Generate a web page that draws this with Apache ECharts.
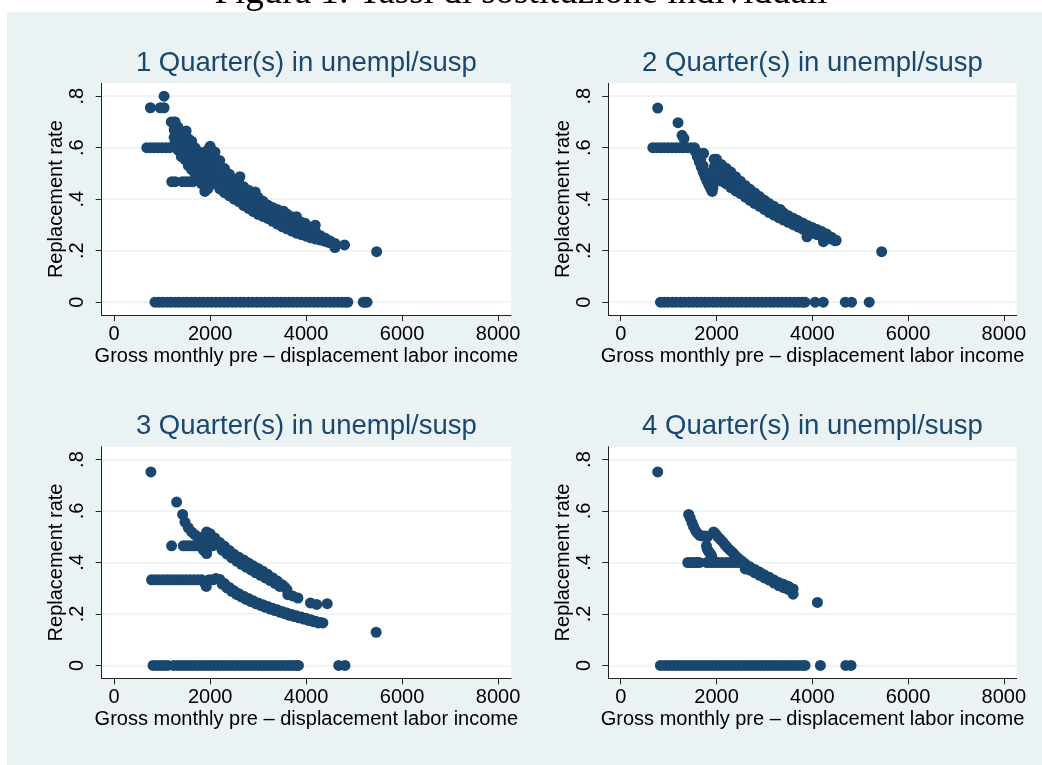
<!DOCTYPE html>
<html><head><meta charset="utf-8">
<script src="https://cdn.jsdelivr.net/npm/echarts@6/dist/echarts.min.js"></script>
<style>html,body{margin:0;padding:0;background:#fff}#c{width:1042px;height:765px}</style>
</head><body><div id="c"></div>
<script>
const captionText = 'Figura 1: Tassi di sostituzione individuali';
const panelTitles = ['1 Quarter(s) in unempl/susp','2 Quarter(s) in unempl/susp','3 Quarter(s) in unempl/susp','4 Quarter(s) in unempl/susp'];
const xAxisTitle = 'Gross monthly pre \u2013 displacement labor income';
const yAxisTitle = 'Replacement rate';
const xTicks = [0, 2000, 4000, 6000, 8000];
const yTicks = [0, 0.2, 0.4, 0.6, 0.8];

// ---- Panel 1 ----
const q1Zero = [850,930,1010,1100,1180,1270,1350,1440,1520,1610,1690,1780,1860,1950,2030,2120,2200,2290,2370,2460,2540,2630,2710,2800,2880,2970,3050,3140,3220,3310,3390,3480,3560,3650,3730,3820,3900,3990,4070,4160,4240,4330,4410,4500,4580,4670,4750,4820,4870,5190,5230,5270];
const q1Cols = [
 [1250,0.70,0.67,0.64,0.61],[1330,0.68,0.65,0.62,0.59],[1400,0.655,0.625,0.595,0.565],
 [1470,0.645,0.615,0.585,0.555],[1545,0.635,0.605,0.575,0.545,0.53],[1615,0.625,0.595,0.565,0.535,0.515],
 [1685,0.60,0.57,0.54,0.51,0.50],[1750,0.585,0.555,0.525,0.50,0.48],[1820,0.58,0.55,0.52,0.49,0.46],
 [1890,0.58,0.55,0.52,0.49,0.46,0.43],[1950,0.59,0.56,0.53,0.50,0.47,0.44],[2000,0.605,0.575,0.545,0.515,0.485,0.455],
 [2100,0.583,0.553,0.523,0.493,0.463],[2200,0.55,0.52,0.49,0.465,0.44],[2300,0.519,0.49,0.46,0.425],
 [2400,0.497,0.47,0.44,0.413],[2500,0.476,0.45,0.425,0.40],[2600,0.462,0.437,0.412,0.39],
 [2700,0.448,0.423,0.398,0.375],[2800,0.435,0.41,0.387,0.364],[2900,0.422,0.397,0.375,0.352],
 [3000,0.407,0.382,0.361,0.341],[3100,0.392,0.37,0.35,0.333],[3200,0.377,0.358,0.34,0.325],
 [3300,0.368,0.35,0.332,0.314],[3400,0.36,0.342,0.323,0.303],[3500,0.351,0.333,0.313,0.293],
 [3600,0.342,0.323,0.304,0.285],[3700,0.332,0.313,0.295,0.276],[3800,0.322,0.304,0.286,0.268],
 [3900,0.31,0.293,0.277,0.262],[4000,0.299,0.284,0.27,0.256],[4100,0.285,0.27,0.25],
 [4200,0.272,0.258,0.245],[4300,0.258,0.248,0.241],[4400,0.248,0.236],[4500,0.237,0.232],[4600,0.228]
];
const q1Other = [
 [755,0.755],[960,0.755],[1040,0.755],[1040,0.80],
 [680,0.60],[760,0.60],[840,0.60],[920,0.60],[1000,0.60],[1080,0.60],[1160,0.60],
 [1190,0.70],[1270,0.70],[1500,0.665],
 [1200,0.468],[1270,0.468],[1420,0.468],[1490,0.468],[1560,0.468],[1640,0.468],
 [2620,0.487],[2940,0.428],[3530,0.353],[3800,0.332],[3980,0.306],[4190,0.299],[4470,0.232],[4600,0.212],[4800,0.222],[5470,0.196]
];

// ---- Panel 2 ----
const q2Zero = [830,910,990,1080,1160,1250,1330,1420,1500,1590,1670,1760,1840,1930,2010,2100,2180,2270,2350,2440,2520,2610,2690,2780,2860,2950,3030,3120,3200,3290,3370,3460,3540,3630,3710,3790,3850,4060,4230,4690,4820,5190];
const q2Cols = [
 [2000,0.555,0.53,0.50,0.475],[2100,0.535,0.51,0.49,0.47],[2200,0.52,0.495,0.475,0.46],
 [2300,0.505,0.48,0.46,0.445],[2400,0.487,0.465,0.447,0.432],[2500,0.47,0.447,0.422],
 [2600,0.453,0.43,0.408],[2700,0.438,0.416,0.395],[2800,0.424,0.403,0.383],[2900,0.41,0.39,0.372],
 [3000,0.396,0.378,0.36],[3100,0.383,0.365,0.348],[3200,0.372,0.355,0.338],[3300,0.36,0.344,0.328],
 [3400,0.347,0.333,0.319],[3500,0.336,0.323,0.31],[3600,0.326,0.313,0.301],[3700,0.317,0.304,0.292],
 [3800,0.307,0.295,0.284],[3900,0.298,0.287,0.277],[4000,0.29,0.279,0.268],[4100,0.282,0.262],
 [4200,0.274,0.256],[4300,0.265,0.25],[4400,0.252,0.245],[4500,0.24]
];
const q2Other = [
 [772,0.754],[1196,0.697],[1280,0.648],[1320,0.636],
 [670,0.60],[750,0.60],[830,0.60],[910,0.60],[990,0.60],[1070,0.60],[1150,0.60],[1230,0.60],[1310,0.60],[1390,0.60],[1470,0.60],[1540,0.60],
 [1731,0.578],
 [1560,0.585],[1600,0.565],[1640,0.545],[1680,0.525],[1720,0.505],[1760,0.488],[1800,0.47],[1840,0.455],[1880,0.44],[1910,0.43],
 [1620,0.58],[1670,0.555],[1720,0.53],[1770,0.505],[1820,0.485],[1860,0.47],
 [1950,0.555],[1955,0.525],[1950,0.495],[1940,0.465],[1925,0.445],
 [3330,0.36],[3889,0.254],[4233,0.235],[4480,0.238],[5450,0.196]
];

// ---- Panel 3 ----
const q3Zero = [810,890,970,1050,1120,1240,1320,1400,1480,1560,1640,1720,1800,1880,1960,2040,2120,2200,2280,2360,2440,2520,2600,2680,2760,2840,2920,3000,3080,3160,3240,3320,3400,3480,3560,3640,3720,3790,3840,4680,4810];
const q3Cols = [];
const q3Other = [
 [766,0.752],[1301,0.635],[1426,0.587],[1475,0.557],[1545,0.535],[1614,0.519],[1680,0.508],[1740,0.50],[1790,0.497],
 [1858,0.448],[1927,0.435],[1910,0.46],[1927,0.519],[1950,0.51],[1940,0.485],
 [1197,0.465],[1440,0.465],[1510,0.465],[1580,0.465],[1650,0.465],[1720,0.465],[1790,0.465],[1860,0.465],[1980,0.465],[2050,0.465],
 [2000,0.512],[2100,0.495],[2200,0.478],[2300,0.463],[2400,0.447],[2500,0.432],[2600,0.42],[2700,0.41],[2800,0.398],[2900,0.387],[3000,0.377],[3100,0.366],[3200,0.354],[3300,0.341],[3400,0.328],[3500,0.314],[3600,0.295],
 [2150,0.47],[2250,0.46],[2350,0.445],[2450,0.43],[2550,0.417],[2650,0.405],[2750,0.394],[2850,0.383],[2950,0.372],[3050,0.362],[3150,0.352],[3250,0.341],[3350,0.33],[3450,0.317],[3550,0.305],[3620,0.275],
 [2250,0.448],[2350,0.433],[2450,0.418],[2550,0.405],[2650,0.393],[2750,0.382],[2850,0.371],[2950,0.36],[3050,0.35],[3150,0.34],[3250,0.33],[3350,0.319],[3450,0.307],
 [3720,0.27],[3830,0.262],[4090,0.243],[4220,0.237],[4440,0.24],[5460,0.129],
 [780,0.333],[860,0.333],[940,0.333],[1020,0.333],[1100,0.333],[1180,0.333],[1260,0.333],[1340,0.333],[1420,0.333],[1500,0.333],[1580,0.333],[1660,0.333],[1740,0.333],[1820,0.333],[1900,0.315],[1920,0.307],[1980,0.333],[2060,0.333],[2120,0.338],
 [2200,0.334],[2300,0.318],[2400,0.303],[2500,0.29],[2600,0.279],[2700,0.269],[2800,0.26],[2900,0.251],[3000,0.243],[3100,0.236],[3200,0.229],[3300,0.222],[3400,0.216],[3500,0.21],[3600,0.204],[3700,0.198],[3800,0.193],[3900,0.188],[4000,0.183],[4100,0.178],[4200,0.172],[4300,0.167],[4350,0.165],
 [2250,0.316],[2350,0.301],[2450,0.288],[2550,0.276],[2650,0.266],[2750,0.257],[2850,0.248],[2950,0.24],[3050,0.233],[3150,0.226],[3250,0.219],[3350,0.213],[3450,0.207],[3550,0.201],[3650,0.195],[3750,0.19],[3850,0.185],[3950,0.18],[4050,0.175],[4150,0.17],[4250,0.165]
];

// ---- Panel 4 ----
const q4Zero = [828,910,990,1070,1150,1230,1310,1390,1470,1550,1630,1710,1790,1870,1950,2030,2110,2190,2270,2350,2430,2510,2590,2670,2750,2830,2910,2990,3070,3150,3230,3310,3390,3470,3550,3630,3710,3790,3850,4170,4700,4810];
const q4Cols = [
 [2600,0.395,0.385,0.375],[2700,0.383,0.37],[2800,0.373,0.36],[2900,0.363,0.35],[3000,0.352,0.34],
 [3100,0.343,0.332],[3200,0.332,0.32],[3300,0.322,0.31],[3400,0.315,0.302],[3500,0.308,0.296]
];
const q4Other = [
 [772,0.752],[1419,0.587],[1450,0.573],[1488,0.555],[1520,0.54],[1560,0.525],[1600,0.514],[1650,0.505],[1710,0.503],[1770,0.503],[1810,0.50],
 [1790,0.465],[1805,0.452],[1835,0.443],[1870,0.435],[1900,0.425],[1920,0.412],
 [1940,0.519],[1985,0.51],[2030,0.50],[2080,0.49],[2130,0.48],[2180,0.468],[2230,0.458],[2280,0.448],[2330,0.44],[2380,0.43],[2430,0.42],[2480,0.412],[2530,0.405],
 [1400,0.40],[1460,0.40],[1520,0.40],[1580,0.40],[1640,0.40],[1800,0.40],[1880,0.40],[1960,0.40],[2040,0.40],[2120,0.40],[2200,0.40],[2280,0.40],[2360,0.40],[2440,0.40],[2520,0.40],
 [3600,0.297],[3600,0.277],[4108,0.245]
];

function buildPoints(zero, cols, other) {
  const pts = [];
  zero.forEach(x => pts.push([x, 0]));
  cols.forEach(c => { for (let i = 1; i < c.length; i++) pts.push([c[0], c[i]]); });
  other.forEach(p => pts.push(p));
  return pts;
}
const panelData = [
  buildPoints(q1Zero, q1Cols, q1Other),
  buildPoints(q2Zero, q2Cols, q2Other),
  buildPoints(q3Zero, q3Cols, q3Other),
  buildPoints(q4Zero, q4Cols, q4Other)
];

const FONT = '"Liberation Sans", Arial, Helvetica, sans-serif';
const NAVY = '#1a476f';
const grids = [
  {left: 101.7, top: 83.3, width: 409.3, height: 231.7},
  {left: 608.3, top: 83.3, width: 408.4, height: 231.7},
  {left: 101.7, top: 446.7, width: 409.3, height: 231.6},
  {left: 608.3, top: 446.7, width: 408.4, height: 231.6}
];

const option = {
  backgroundColor: '#ffffff',
  animation: false,
  graphic: [
    {type: 'rect', z: -100, silent: true, shape: {x: 7, y: 12, width: 1035, height: 753}, style: {fill: '#eaf2f3'}},
    {type: 'text', z: 100, silent: true, style: {text: captionText, x: 521, y: -7, align: 'center', verticalAlign: 'middle', font: '37px "Liberation Serif", "Times New Roman", serif', fill: '#000'}}
  ],
  title: panelTitles.map((t, i) => ({
    text: t,
    left: grids[i].left + grids[i].width / 2,
    top: grids[i].top - 34,
    textAlign: 'center',
    padding: 0,
    textStyle: {fontFamily: FONT, fontSize: 27.5, fontWeight: 'normal', color: NAVY}
  })),
  grid: grids.map(g => Object.assign({show: true, backgroundColor: '#ffffff', borderWidth: 0, containLabel: false}, g)),
  xAxis: grids.map((g, i) => ({
    type: 'value', gridIndex: i, min: -260, max: 8270,
    name: xAxisTitle, nameLocation: 'middle', nameGap: 31,
    nameTextStyle: {fontFamily: FONT, fontSize: 20, color: '#000'},
    axisLine: {show: true, onZero: false, lineStyle: {color: '#222', width: 1}},
    axisTick: {show: true, customValues: xTicks, length: 6, lineStyle: {color: '#222', width: 1}},
    axisLabel: {customValues: xTicks, margin: 9, fontFamily: FONT, fontSize: 20, color: '#000',
      formatter: v => String(Math.round(v))},
    splitLine: {show: false}
  })),
  yAxis: grids.map((g, i) => ({
    type: 'value', gridIndex: i, min: -0.05, max: 0.85, splitNumber: 4,
    name: yAxisTitle, nameLocation: 'middle', nameGap: 35, nameRotate: 90,
    nameTextStyle: {fontFamily: FONT, fontSize: 20, color: '#000'},
    axisLine: {show: true, onZero: false, lineStyle: {color: '#222', width: 1}},
    axisTick: {show: true, customValues: yTicks, length: 6, lineStyle: {color: '#222', width: 1}},
    axisLabel: {customValues: yTicks, rotate: 90, margin: 14, fontFamily: FONT, fontSize: 20, color: '#000',
      formatter: v => (v === 0 ? '0' : String(+v.toFixed(2)).replace(/^0\./, '.'))},
    splitLine: {show: true, lineStyle: {color: '#eaf2f3', width: 1.5}}
  })),
  series: panelData.map((d, i) => ({
    type: 'scatter', xAxisIndex: i, yAxisIndex: i, data: d,
    symbol: 'circle', symbolSize: 11, silent: true,
    itemStyle: {color: NAVY, opacity: 1}
  }))
};

const chart = echarts.init(document.getElementById('c'), null, {renderer: 'canvas'});
chart.setOption(option);
</script>
</body></html>
